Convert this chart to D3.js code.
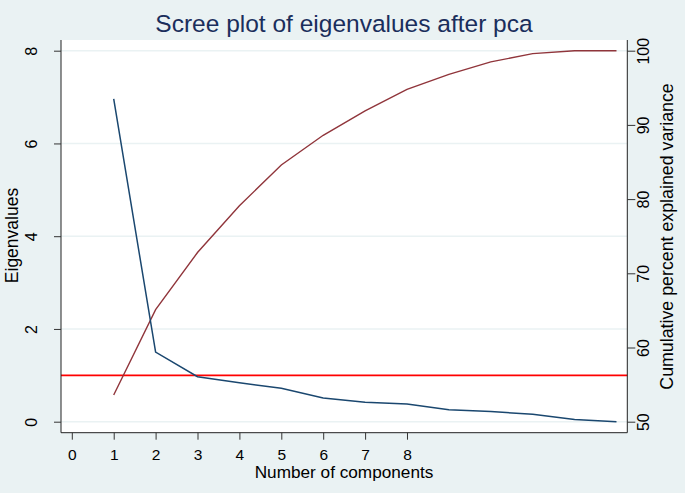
<!DOCTYPE html>
<html lang="en">
<head>
    <meta charset="UTF-8">
    <title>Scree plot of eigenvalues after pca</title>
    <script src="https://d3js.org/d3.v7.min.js"></script>
    <style>
    html, body {
        margin: 0;
        background: #eaf2f3;
    }
    svg {
        display: block;
        font-family: "Liberation Sans", Arial, sans-serif;
    }
    </style>
</head>
<body>
<svg id="chart" width="685" height="493"></svg>
<script>
// values
var components  = [1, 2, 3, 4, 5, 6, 7, 8, 9, 10, 11, 12, 13];
var eigenvalues = [6.96, 1.50, 0.97, 0.84, 0.72, 0.51, 0.42, 0.38, 0.26, 0.22, 0.16, 0.05, 0.00];
var cumPercent  = [53.6, 65.1, 72.8, 79.1, 84.6, 88.6, 91.9, 94.8, 96.8, 98.5, 99.6, 100, 100];
var xTicks      = [0, 1, 2, 3, 4, 5, 6, 7, 8];
var leftTicks   = [0, 2, 4, 6, 8];
var rightTicks  = [50, 60, 70, 80, 90, 100];
var threshold   = 1;

var W = 685, H = 493;
var plot = { left: 61, right: 627.3, top: 40, bottom: 432.7 };

var svg = d3.select("#chart");

svg.append("rect")
    .attr("width", W).attr("height", H)
    .attr("fill", "#eaf2f3");

svg.append("rect")
    .attr("x", plot.left).attr("y", plot.top)
    .attr("width", plot.right - plot.left)
    .attr("height", plot.bottom - plot.top)
    .attr("fill", "#ffffff");

var x = d3.scaleLinear().domain([-0.258, 13.258]).range([plot.left, plot.right]);
var yL = d3.scaleLinear().domain([0, 8]).range([421.7, 50.7]);
var yR = d3.scaleLinear().domain([50, 100]).range([421.7, 50.7]);

// grid lines
svg.append("g")
    .selectAll("line")
    .data(leftTicks)
    .enter()
    .append("line")
    .attr("x1", plot.left).attr("x2", plot.right)
    .attr("y1", function (d) { return yL(d); })
    .attr("y2", function (d) { return yL(d); })
    .attr("stroke", "#eaf2f3")
    .attr("stroke-width", 1.5);

// threshold line at eigenvalue 1
svg.append("line")
    .attr("x1", plot.left).attr("x2", plot.right)
    .attr("y1", yL(threshold)).attr("y2", yL(threshold))
    .attr("stroke", "#ff0000")
    .attr("stroke-width", 1.6);

var eigLine = d3.line()
    .x(function (d, i) { return x(components[i]); })
    .y(function (d) { return yL(d); });

var cumLine = d3.line()
    .x(function (d, i) { return x(components[i]); })
    .y(function (d) { return yR(d); });

svg.append("path")
    .datum(cumPercent)
    .attr("d", cumLine)
    .attr("fill", "none")
    .attr("stroke", "#90353b")
    .attr("stroke-width", 1.4);

svg.append("path")
    .datum(eigenvalues)
    .attr("d", eigLine)
    .attr("fill", "none")
    .attr("stroke", "#1a476f")
    .attr("stroke-width", 1.5);

// axes
function styleAxis(g) {
    g.select(".domain").attr("stroke", "#222").attr("stroke-width", 1);
    g.selectAll(".tick line").attr("stroke", "#333");
    g.selectAll(".tick text")
        .attr("fill", "#000")
        .attr("font-size", 16)
        .attr("font-family", "Liberation Sans, Arial, sans-serif");
}

var leftAxis = svg.append("g")
    .attr("transform", "translate(" + plot.left + ",0)")
    .call(d3.axisLeft(yL).tickValues(leftTicks).tickSize(7).tickSizeOuter(0));
leftAxis.select(".domain").attr("d", "M0," + plot.top + "V" + plot.bottom);
styleAxis(leftAxis);
leftAxis.selectAll(".tick text")
    .attr("x", 0).attr("y", -23.8).attr("dy", 0)
    .attr("text-anchor", "middle")
    .attr("transform", "rotate(-90)");

var rightAxis = svg.append("g")
    .attr("transform", "translate(" + plot.right + ",0)")
    .call(d3.axisRight(yR).tickValues(rightTicks).tickSize(8).tickSizeOuter(0));
rightAxis.select(".domain").attr("d", "M0," + plot.top + "V" + plot.bottom);
styleAxis(rightAxis);
rightAxis.selectAll(".tick text")
    .attr("x", 0).attr("y", 22).attr("dy", 0)
    .attr("text-anchor", "middle")
    .attr("transform", "rotate(-90)");

var bottomAxis = svg.append("g")
    .attr("transform", "translate(0," + plot.bottom + ")")
    .call(d3.axisBottom(x).tickValues(xTicks).tickSize(7).tickSizeOuter(0));
bottomAxis.select(".domain").attr("d", "M" + plot.left + ",0H" + plot.right);
styleAxis(bottomAxis);
bottomAxis.selectAll(".tick text")
    .attr("font-size", 15.5)
    .attr("y", 27.8).attr("dy", 0);

// titles
svg.append("text")
    .attr("x", 344).attr("y", 32)
    .attr("text-anchor", "middle")
    .attr("font-size", 24.5)
    .attr("fill", "#1a2e5c")
    .text("Scree plot of eigenvalues after pca");

svg.append("text")
    .attr("x", 344).attr("y", 478)
    .attr("text-anchor", "middle")
    .attr("font-size", 17.2)
    .attr("fill", "#000")
    .text("Number of components");

svg.append("text")
    .attr("transform", "translate(17.5,235.5) rotate(-90)")
    .attr("text-anchor", "middle")
    .attr("font-size", 17.5)
    .attr("fill", "#000")
    .text("Eigenvalues");

svg.append("text")
    .attr("transform", "translate(673,236.5) rotate(-90)")
    .attr("text-anchor", "middle")
    .attr("font-size", 17.8)
    .attr("fill", "#000")
    .text("Cumulative percent explained variance");
</script>
</body>
</html>
